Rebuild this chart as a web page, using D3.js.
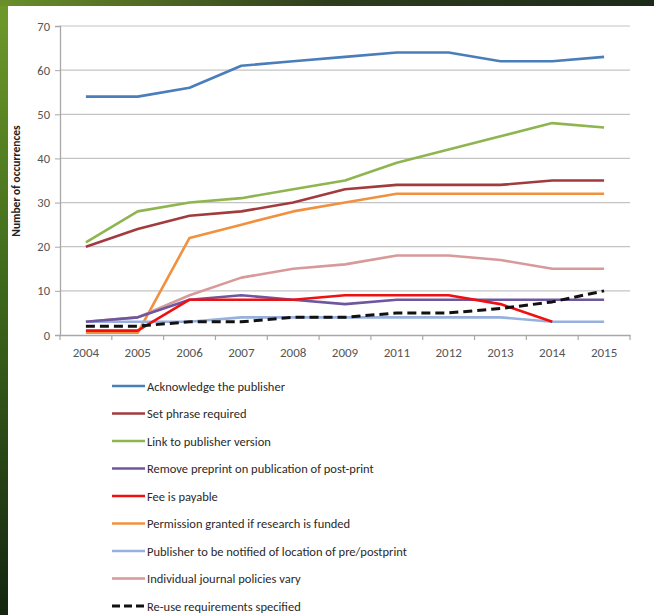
<!DOCTYPE html>
<html><head><meta charset="utf-8">
<script src="https://cdn.jsdelivr.net/npm/d3@7"></script>
<style>body{margin:0;background:#fff;} svg{display:block;}</style>
</head><body>
<svg id="c" width="654" height="615"></svg>
<script>
const years = ["2004","2005","2006","2007","2008","2009","2011","2012","2013","2014","2015"];
const yTicks = [0,10,20,30,40,50,60,70];
const seriesNames = ["Acknowledge the publisher","Set phrase required","Link to publisher version","Remove preprint on publication of post-print","Fee is payable","Permission granted if research is funded","Publisher to be notified of location of pre/postprint","Individual journal policies vary","Re-use requirements specified"];
const acknowledge = [54,54,56,61,62,63,64,64,62,62,63];
const setPhrase   = [20,24,27,28,30,33,34,34,34,35,35];
const linkVersion = [21,28,30,31,33,35,39,42,45,48,47];
const removePre   = [3,4,8,9,8,7,8,8,8,8,8];
const feePayable  = [1,1,8,8,8,9,9,9,7,3,null];
const permission  = [0.5,0.5,22,25,28,30,32,32,32,32,32];
const notified    = [3,3,3,4,4,4,4,4,4,3,3];
const individual  = [3,4,9,13,15,16,18,18,17,15,15];
const reuse       = [2,2,3,3,4,4,5,5,6,7.5,10];
const colors = ["#4a7ebb","#a23b3d","#8fb550","#6f57a0","#f01010","#f0913f","#97b0dd","#d8999a","#111"];

const allSeries = [acknowledge,setPhrase,linkVersion,removePre,feePayable,permission,notified,individual,reuse];

const svg = d3.select("#c");
const defs = svg.append("defs");
const g1 = defs.append("linearGradient").attr("id","fol").attr("x1",0).attr("y1",0).attr("x2",0).attr("y2",1);
g1.append("stop").attr("offset","0").attr("stop-color","#6f9a2a");
g1.append("stop").attr("offset","0.45").attr("stop-color","#3f6a1c");
g1.append("stop").attr("offset","1").attr("stop-color","#14260f");
svg.append("rect").attr("width",654).attr("height",615).attr("fill","url(#fol)");
const g2 = defs.append("linearGradient").attr("id","top").attr("x1",0).attr("y1",0).attr("x2",1).attr("y2",0);
g2.append("stop").attr("offset","0").attr("stop-color","#6a8f2a");
g2.append("stop").attr("offset","0.5").attr("stop-color","#2e3d1c");
g2.append("stop").attr("offset","1").attr("stop-color","#1c2a18");
svg.append("rect").attr("width",654).attr("height",6).attr("fill","url(#top)");
svg.append("rect").attr("x",8).attr("y",6).attr("width",646).attr("height",609).attr("fill","#fff");

const x = d3.scaleBand().domain(years).range([60,630]);
const y = d3.scaleLinear().domain([0,70]).range([335,26]);
const font = "Calibri, Carlito, 'Liberation Sans Narrow', Lato, 'Open Sans', sans-serif";

svg.append("g").selectAll("line").data(yTicks.filter(d=>d>0)).join("line")
  .attr("x1",60).attr("x2",630).attr("y1",d=>y(d)).attr("y2",d=>y(d))
  .attr("stroke","#c4c4c4").attr("stroke-width",1.2);

const yAxis = svg.append("g").attr("transform","translate(60,0)")
  .call(d3.axisLeft(y).tickValues(yTicks).tickSize(5).tickPadding(5));
yAxis.select(".domain").attr("stroke","#a8a8a8").attr("stroke-width",1.3);
yAxis.selectAll(".tick line").attr("stroke","#a8a8a8");
yAxis.selectAll("text").attr("font-family",font).attr("font-size",12.5).attr("fill","#555");

const xAxis = svg.append("g").attr("transform","translate(0,335)")
  .call(d3.axisBottom(x).tickSize(0).tickPadding(13));
xAxis.select(".domain").attr("stroke","#a8a8a8").attr("stroke-width",1.3);
xAxis.selectAll("text").attr("font-family",font).attr("font-size",13).attr("fill","#555");
xAxis.selectAll("line.bt").data(years.concat(["end"])).join("line").attr("class","bt")
  .attr("x1",(d,i)=>60+i*x.step()).attr("x2",(d,i)=>60+i*x.step())
  .attr("y1",0).attr("y2",5).attr("stroke","#a8a8a8").attr("stroke-width",1.2);

svg.append("text").attr("transform","translate(20,181) rotate(-90)")
  .attr("text-anchor","middle").attr("font-family",font).attr("font-weight","bold")
  .attr("font-size",11.5).attr("fill","#222").text("Number of occurrences");

const line = d3.line().defined(d=>d.v!==null).x(d=>x(d.k)+x.bandwidth()/2).y(d=>y(d.v));
const drawOrder = [0,1,2,5,7,6,3,4,8];
drawOrder.forEach(i=>{
  const data = allSeries[i].map((v,j)=>({k:years[j],v}));
  svg.append("path").datum(data).attr("d",line).attr("fill","none")
    .attr("stroke",colors[i]).attr("stroke-width", i===8?3:2.6)
    .attr("stroke-dasharray", i===8?"9,5":null)
    .attr("stroke-linejoin","round");
});

const lg = svg.append("g");
seriesNames.forEach((n,i)=>{
  const yy = 386 + i*27.5;
  lg.append("line").attr("x1",112).attr("x2",145).attr("y1",yy).attr("y2",yy)
    .attr("stroke",colors[i]).attr("stroke-width",i===8?3:2.6)
    .attr("stroke-dasharray", i===8?"8,4":null);
  lg.append("text").attr("x",147).attr("y",yy+4.5).attr("font-family",font)
    .attr("font-size",12.5).attr("fill","#2a2a2a").text(n);
});
</script>
</body></html>
